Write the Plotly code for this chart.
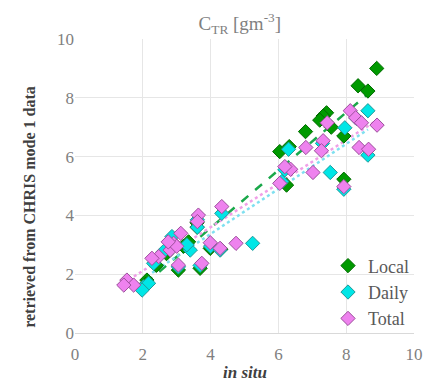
import numpy as np
import plotly.graph_objects as go

# In situ vs. retrieved CTR concentrations for three correction schemes
local_x = [8.90, 8.35, 8.64, 7.42, 7.32, 7.22, 7.56, 6.80, 6.32, 6.04, 7.93, 6.24, 7.93,
           3.99, 3.35, 3.05, 3.69, 2.12, 2.08, 2.70, 3.60, 3.60, 2.40, 2.95, 3.20, 4.30]
local_y = [9.00, 8.41, 8.23, 7.49, 7.38, 7.24, 7.00, 6.85, 6.34, 6.17, 6.70, 5.03, 5.23,
           2.88, 3.10, 2.14, 2.20, 1.80, 1.65, 2.70, 3.60, 3.75, 2.30, 3.00, 2.95, 2.85]

daily_x = [8.64, 7.96, 7.53, 8.64, 7.93, 6.19, 6.10, 5.24, 4.33, 3.61, 3.61, 2.86, 2.61,
           3.40, 2.32, 2.02, 2.17, 1.98, 3.30, 4.00, 4.28, 3.05, 3.69, 7.30, 8.30, 6.30]
daily_y = [7.56, 6.98, 5.46, 6.05, 4.89, 5.55, 5.15, 3.05, 4.07, 3.60, 3.85, 3.28, 2.77,
           2.82, 2.37, 1.57, 1.69, 1.46, 3.00, 2.95, 2.82, 2.25, 2.30, 6.45, 7.30, 6.25]

total_x = [8.12, 8.28, 8.45, 8.91, 7.44, 7.32, 7.27, 6.81, 8.38, 8.66, 7.02, 6.36, 6.19,
           6.04, 7.93, 4.33, 3.99, 4.28, 4.75, 3.74, 3.64, 3.61, 3.12, 2.91, 2.81, 2.47,
           2.27, 3.05, 1.53, 1.73, 1.44, 3.00, 2.75]
total_y = [7.56, 7.32, 7.15, 7.07, 7.15, 6.54, 6.20, 6.31, 6.31, 6.25, 5.46, 5.57, 5.66,
           5.09, 4.98, 4.30, 3.07, 2.88, 3.05, 2.37, 4.01, 3.79, 3.39, 3.05, 2.82, 2.60,
           2.54, 2.31, 1.80, 1.63, 1.63, 2.95, 3.10]

x_ticks = [0, 2, 4, 6, 8, 10]
y_ticks = [0, 2, 4, 6, 8, 10]

FONT = "Liberation Serif"
GREY = "#7f7f7f"
DARK = "#404040"

series = [
    ("Local", local_x, local_y, "#009a00", "#006b00", "#1aa84a", "dash"),
    ("Daily", daily_x, daily_y, "#00e6e6", "#209999", "#7fe0f0", "dot"),
    ("Total", total_x, total_y, "#ee82ee", "#9b4f9b", "#f0a0e8", "dot"),
]

fig = go.Figure()

# Linear trend line of each series, spanning its in situ range
for name, xs, ys, fill, edge, tcol, dash in series:
    xs_a = np.array(xs)
    slope, icpt = np.polyfit(xs_a, np.array(ys), 1)
    xl = np.array([xs_a.min(), xs_a.max()])
    fig.add_trace(go.Scatter(
        x=xl, y=slope * xl + icpt, mode="lines",
        line=dict(color=tcol, width=2.5, dash=dash),
        showlegend=False, hoverinfo="skip"))

for name, xs, ys, fill, edge, tcol, dash in series:
    fig.add_trace(go.Scatter(
        x=xs, y=ys, mode="markers", name=name, legendgroup=name,
        marker=dict(symbol="diamond", size=11, color=fill,
                    line=dict(color=edge, width=1))))

fig.update_layout(
    width=423, height=383,
    margin=dict(l=75, r=9, t=39, b=50),
    paper_bgcolor="white", plot_bgcolor="white",
    font=dict(family=FONT, color=GREY, size=17),
    title=dict(text="C<sub>TR</sub> [gm<sup>-3</sup>]", x=0.567, xanchor="center",
               y=0.94, yanchor="middle", font=dict(family=FONT, size=19, color=GREY)),
    showlegend=True,
    legend=dict(x=1.0, y=-0.015, xanchor="right", yanchor="bottom",
                bgcolor="rgba(0,0,0,0)", font=dict(family=FONT, size=18, color="#595959"),
                itemwidth=30, tracegroupgap=0),
    annotations=[
        dict(text="<b>retrieved from CHRIS mode 1 data</b>", textangle=-90,
             xref="paper", yref="paper", x=-0.135, y=0.43, xanchor="center",
             yanchor="middle", showarrow=False,
             font=dict(family=FONT, size=16, color=DARK)),
        dict(text="<b><i>in situ</i></b>", xref="paper", yref="paper",
             x=0.5, y=-0.133, xanchor="center", yanchor="middle", showarrow=False,
             font=dict(family=FONT, size=17, color=DARK)),
    ],
)

fig.update_xaxes(range=[0, 10], tickvals=x_ticks, showgrid=True, gridcolor="#e6e6e6",
                 gridwidth=1, zeroline=False, showline=True, linecolor="#d9d9d9",
                 ticks="", automargin=False, ticklabelstandoff=6,
                 tickfont=dict(size=17, color=GREY))
fig.update_yaxes(range=[0, 10], tickvals=y_ticks, showgrid=True, gridcolor="#e6e6e6",
                 gridwidth=1, zeroline=False, showline=False, ticks="", automargin=False,
                 tickfont=dict(size=17, color=GREY))

fig.write_html("out.html")
